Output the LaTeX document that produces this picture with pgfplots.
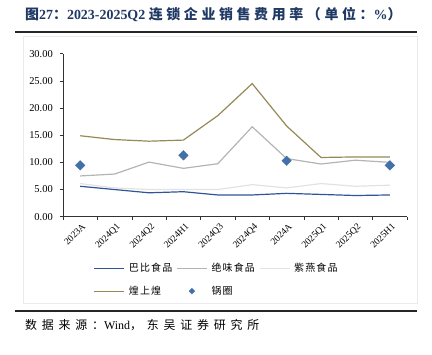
\documentclass[border=0pt]{standalone}
\usepackage{fontspec}
\setmainfont{Liberation Serif}
\newfontfamily\cjk{Noto Sans CJK SC}
\usepackage{pgfplots}
\pgfplotsset{compat=1.18}
\definecolor{babi}{HTML}{2F5597}
\definecolor{juewei}{HTML}{B4B4B4}
\definecolor{ziyan}{HTML}{E2E2E2}
\definecolor{huang}{HTML}{958A56}
\definecolor{guoquan}{HTML}{4270A8}
\definecolor{titleblue}{HTML}{1F3864}
\begin{document}
\begin{tikzpicture}
\path (0bp,0bp) rectangle (432bp,-355bp);
% title
\node[anchor=west,inner sep=0,text=titleblue] at (25bp,-15bp)
  {\fontsize{14}{14}\selectfont\bfseries{\cjk\addfontfeature{LetterSpace=10}图}27{\cjk：}2023-2025Q2 {\cjk\addfontfeature{LetterSpace=26}连锁企业销售费用率（单位：}\%{\cjk）}};
\draw[line width=1.3bp,black!85] (15bp,-32bp) -- (417bp,-32bp);
\draw[line width=1.3bp,black!85] (15bp,-311bp) -- (417bp,-311bp);
\draw[black!8] (23bp,-36bp) rectangle (417bp,-303bp);
\node[anchor=west,inner sep=0] at (25bp,-325bp)
  {\fontsize{12}{12}\selectfont{\cjk\addfontfeature{LetterSpace=40}数据来源：}Wind{\cjk\addfontfeature{LetterSpace=40}，东吴证券研究所}};
\begin{axis}[
  at={(63bp,-216.7bp)}, anchor=south west,
  scale only axis, width=344bp, height=163bp,
  xmin=-0.5, xmax=9.5, ymin=0, ymax=30,
  axis x line*=bottom, axis y line*=left,
  axis line style={black!80, line width=0.6bp},
  xtick={-0.5,0.5,...,9.5},
  xticklabels={2023A,2024Q1,2024Q2,2024H1,2024Q3,2024Q4,2024A,2025Q1,2025Q2,2025H1},
  x tick label as interval,
  xticklabel style={rotate=45, anchor=north east, font=\fontsize{9.5}{9.5}\selectfont, inner sep=1bp, yshift=-2bp},
  ytick={0,5,...,30},
  yticklabel style={font=\fontsize{10.5}{10.5}\selectfont, inner sep=2bp, xshift=-5bp},
  /pgf/number format/.cd, fixed, fixed zerofill, precision=2, assume math mode=true,
  /pgfplots/.cd,
  tick style={black!80, line width=0.6bp},
  major tick length=3bp,
  tick align=outside,
  legend columns=3,
  legend cell align=left,
  legend style={at={(0.08,-0.26)}, anchor=north west, draw=none, fill=none,
    font=\fontsize{10}{10}\selectfont\cjk\addfontfeature{LetterSpace=12},
    column sep=2bp, row sep=9bp},
  legend image code/.code={\draw[#1] (0bp,0bp) -- (30bp,0bp);},
  clip=false,
]
\addplot[babi, line width=1.2bp] coordinates {(0,5.6)(1,5.0)(2,4.4)(3,4.6)(4,4.0)(5,4.0)(6,4.3)(7,4.1)(8,3.9)(9,4.0)};
\addlegendentry{巴比食品}
\addplot[juewei, line width=1.2bp] coordinates {(0,7.5)(1,7.85)(2,10.05)(3,8.9)(4,9.75)(5,16.55)(6,10.7)(7,9.7)(8,10.4)(9,10.0)};
\addlegendentry{绝味食品}
\addplot[ziyan, line width=1.2bp] coordinates {(0,6.1)(1,5.3)(2,5.0)(3,5.0)(4,5.0)(5,5.9)(6,5.3)(7,6.1)(8,5.6)(9,5.8)};
\addlegendentry{紫燕食品}
\addplot[huang, line width=1.2bp] coordinates {(0,14.9)(1,14.2)(2,13.9)(3,14.1)(4,18.6)(5,24.5)(6,16.7)(7,10.9)(8,11.0)(9,11.0)};
\addlegendentry{煌上煌}
\addplot[only marks, mark=square*, mark size=3.4bp, mark options={rotate=45, fill=guoquan, draw=guoquan},
  legend image code/.code={\draw[mark=square*, mark size=2bp, mark options={rotate=45, fill=guoquan, draw=guoquan}] plot coordinates {(15bp,0bp)};}]
  coordinates {(0,9.45)(3,11.3)(6,10.3)(9,9.45)};
\addlegendentry{锅圈}
\end{axis}
\end{tikzpicture}
\end{document}
